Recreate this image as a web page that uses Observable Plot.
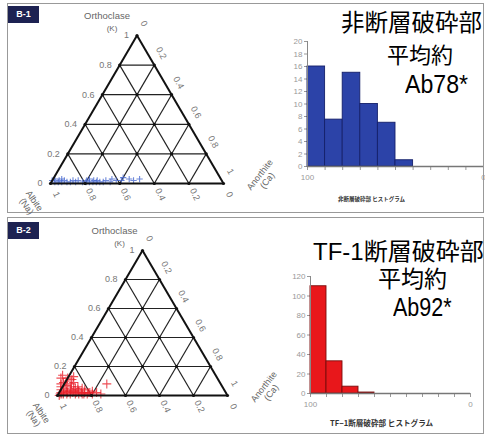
<!DOCTYPE html>
<html><head><meta charset="utf-8">
<script src="https://cdn.jsdelivr.net/npm/d3@7"></script>
<script src="https://cdn.jsdelivr.net/npm/@observablehq/plot@0.6"></script>
<style>
body{margin:0;background:#fff;font-family:"Liberation Sans",Arial,sans-serif;}
#fig{position:relative;width:485px;height:437px;overflow:hidden;background:#fff;}
.panel{position:absolute;border:1.5px solid #999;box-sizing:border-box;}
.tag{position:absolute;background:#1d2252;color:#fff;font-size:9px;font-weight:bold;text-align:center;line-height:16px;}
.big{position:absolute;white-space:nowrap;line-height:0.85;color:#000;font-family:"Liberation Sans","Noto Sans CJK JP",sans-serif;transform-origin:0 0;}
.cap{position:absolute;white-space:nowrap;line-height:1;color:#333;font-family:"Noto Sans CJK JP",sans-serif;font-weight:bold;}
</style></head>
<body><div id="fig"></div>
<script>
// ---------- data ----------
const panelTags = ["B-1", "B-2"];
const ternTicks = [0, 0.2, 0.4, 0.6, 0.8, 1];
const ternTickLabels = ["0", "0.2", "0.4", "0.6", "0.8", "1"];
const apexName = ["Orthoclase", "(K)"];
const leftName = "Albite\n(Na)";
const rightName = "Anorthite\n(Ca)";
// panel 1 (non-fault) points: Ab fraction, K fraction
const t1Ab = [0.98,0.97,0.96,0.95,0.94,0.93,0.92,0.91,0.90,0.88,0.86,0.85,0.83,0.81,0.79,0.78,0.77,0.76,0.75,0.74,0.73,0.72,0.71,0.69,0.67,0.65,0.63,0.61,0.58,0.56,0.53,0.51,0.47];
const t1K  = [0.02,0.01,0.03,0.01,0.02,0.01,0.03,0.02,0.01,0.01,0.02,0.01,0.02,0.01,0.01,0.02,0.01,0.03,0.01,0.02,0.01,0.02,0.01,0.01,0.02,0.01,0.03,0.02,0.02,0.04,0.03,0.02,0.03];
// panel 2 (TF-1 fault) points
const t2Ab = [0.99,0.98,0.97,0.96,0.95,0.94,0.93,0.92,0.91,0.90,0.89,0.88,0.87,0.86,0.85,0.84,0.83,0.82,0.81,0.95,0.93,0.91,0.89,0.87,0.85,0.92,0.90,0.88,0.86,0.94,0.96,0.90,0.86,0.83,0.88,0.90,0.86,0.84,0.92,0.80,0.79,0.78,0.76,0.74,0.97,0.93,0.89,0.85,0.82,0.67];
const t2K  = [0.00,0.01,0.02,0.01,0.03,0.01,0.02,0.01,0.03,0.02,0.01,0.02,0.01,0.03,0.02,0.01,0.02,0.01,0.02,0.06,0.05,0.07,0.06,0.05,0.06,0.09,0.10,0.08,0.09,0.08,0.04,0.04,0.04,0.05,0.12,0.14,0.11,0.13,0.12,0.02,0.01,0.03,0.02,0.01,0.01,0.03,0.03,0.01,0.04,0.08];
// histograms (Ab %), bins of 10 from 100 down to 0
const histEdges = [100,90,80,70,60,50,40,30,20,10,0];
const h1Counts = [16,7.5,15,10,7,1,0,0,0,0];
const h2Counts = [110,33,7,1,0,0,0,0,0,0];
const h1YTicks = [0,2,4,6,8,10,12,14,16,18,20];
const h2YTicks = [0,20,40,60,80,100,120];
const h1Title = "非断層破砕部 ヒストグラム";
const h2Title = "TF−1断層破砕部 ヒストグラム";
const big1 = ["非断層破砕部", "平均約", "Ab78*"];
const big2 = ["TF-1断層破砕部", "平均約", "Ab92*"];

// ---------- helpers ----------
const fig = document.getElementById("fig");
const H = Math.sqrt(3) / 2;
const cart = (ab, k) => ({x: (1 - ab - k) + k / 2, y: k * H});

function place(el, left, top) {
  el.style.position = "absolute"; el.style.left = left + "px"; el.style.top = top + "px";
  fig.appendChild(el); return el;
}
function div(cls, text, css) {
  const d = document.createElement("div"); d.className = cls; d.textContent = text;
  Object.assign(d.style, css); fig.appendChild(d); return d;
}

function ternary({ab, k, color, r, width, height, ml, mr, mt, mb, apexDx}) {
  const inner = ternTicks.slice(1, -1);
  const grid = [];
  for (const t of inner) {
    grid.push({a: cart(1 - t, t), b: cart(0, t)});       // constant K
    grid.push({a: cart(t, 0), b: cart(t, 1 - t)});       // constant Ab
    grid.push({a: cart(1 - t, 0), b: cart(0, 1 - t)});   // constant An
  }
  const edges = [[cart(1, 0), cart(0, 0)], [cart(0, 0), cart(0, 1)], [cart(0, 1), cart(1, 0)]].map(([a, b]) => ({a, b}));
  const nodes = [];
  for (const i of ternTicks) for (const j of ternTicks) if (i + j <= 1.0001) nodes.push(cart(i, j));
  const left = ternTicks.map((t, i) => ({...cart(1 - t, t), label: ternTickLabels[i]}));
  const right = ternTicks.map((t, i) => ({...cart(0, 1 - t), label: ternTickLabels[i]}));
  const bottom = ternTicks.map((t, i) => ({...cart(t, 0), label: ternTickLabels[i]}));
  const pts = ab.map((v, i) => cart(v, k[i]));
  const apex = [cart(0, 1)], albite = [cart(1, 0)], anorthite = [cart(0, 0)];
  const lab = {fontSize: 9, fill: "#777"};
  return Plot.plot({
    width, height, marginLeft: ml, marginRight: mr, marginTop: mt, marginBottom: mb,
    style: {background: "transparent", overflow: "visible", fontFamily: "Liberation Sans, Arial, sans-serif"},
    x: {domain: [0, 1], axis: null}, y: {domain: [0, H], axis: null},
    marks: [
      Plot.link(grid, {x1: d => d.a.x, y1: d => d.a.y, x2: d => d.b.x, y2: d => d.b.y, stroke: "#222", strokeWidth: 1.2}),
      Plot.dot(pts, {x: "x", y: "y", symbol: "plus", r, stroke: color, strokeWidth: 1.1, strokeOpacity: 0.8}),
      Plot.link(edges, {x1: d => d.a.x, y1: d => d.a.y, x2: d => d.b.x, y2: d => d.b.y, stroke: "#111", strokeWidth: 2}),
      Plot.dot(nodes, {x: "x", y: "y", r: 1.6, fill: "#111"}),
      Plot.text(left, {x: "x", y: "y", text: "label", textAnchor: "end", dx: -8, ...lab}),
      Plot.text(right, {x: "x", y: "y", text: "label", rotate: 62, dx: 7, dy: -12, ...lab}),
      Plot.text(bottom, {x: "x", y: "y", text: "label", rotate: 65, dx: 6, dy: 11, ...lab}),
      Plot.text(apex, {x: "x", y: "y", text: () => apexName[0], dx: apexDx, dy: -20, fontSize: 9.5, fill: "#666"}),
      Plot.text(apex, {x: "x", y: "y", text: () => apexName[1], dx: apexDx + 5, dy: -7, fontSize: 8, fill: "#666"}),
      Plot.text(albite, {x: "x", y: "y", text: () => leftName, rotate: 55, dx: -20, dy: 20, fontSize: 9, fill: "#666", lineHeight: 1.05}),
      Plot.text(anorthite, {x: "x", y: "y", text: () => rightName, rotate: -52, dx: 40, dy: -6, fontSize: 9, fill: "#666", lineHeight: 1.05})
    ]
  });
}

function hist({counts, yTicks, yMax, fill, stroke, width, height, ml, mr, mt, mb}) {
  const bins = counts.map((c, i) => ({x1: histEdges[i], x2: histEdges[i + 1], c})).filter(d => d.c > 0);
  return Plot.plot({
    width, height, marginLeft: ml, marginRight: mr, marginTop: mt, marginBottom: mb,
    style: {background: "transparent", overflow: "visible", fontSize: "8px", color: "#999", fontFamily: "Liberation Sans, Arial, sans-serif"},
    x: {domain: [100, 0], ticks: histEdges, tickSize: 4, tickPadding: 4, tickFormat: d => (d === 100 || d === 0) ? String(d) : "", label: null},
    y: {domain: [0, yMax], ticks: yTicks, tickSize: 3, tickPadding: 2, label: null},
    marks: [
      Plot.rectY(bins, {x1: "x1", x2: "x2", y: "c", fill, stroke, strokeWidth: 0.9, inset: 0}),
      Plot.ruleX([100], {stroke: "#888"}),
      Plot.ruleY([0], {stroke: "#777", strokeWidth: 1.6})
    ]
  });
}

// ---------- layout ----------
div("panel", "", {left: "7px", top: "3px", width: "477px", height: "210px"});
div("panel", "", {left: "7px", top: "217px", width: "477px", height: "217px"});
div("tag", panelTags[0], {left: "8px", top: "6px", width: "31px", height: "17px"});
div("tag", panelTags[1], {left: "8px", top: "222px", width: "31px", height: "17px"});

const tern1 = ternary({ab: t1Ab, k: t1K, color: "#4a6ad0", r: 2.2, width: 250, height: 210, ml: 50, mr: 27, mt: 35, mb: 27, apexDx: -30});
place(tern1, 0, 0);
const tern2 = ternary({ab: t2Ab, k: t2K, color: "#e8202a", r: 3, width: 250, height: 216, ml: 57, mr: 23, mt: 34, mb: 37, apexDx: -28});
place(tern2, 0, 216);

const hist1 = hist({counts: h1Counts, yTicks: h1YTicks, yMax: 20, fill: "#2c43a8", stroke: "#15206a", width: 235, height: 215, ml: 57, mr: 2, mt: 41, mb: 49});
place(hist1, 250, 0);
const hist2 = hist({counts: h2Counts, yTicks: h2YTicks, yMax: 120, fill: "#e8171b", stroke: "#7a0c0c", width: 235, height: 217, ml: 60, mr: 15, mt: 60, mb: 40});
place(hist2, 250, 216);

div("cap", h1Title, {left: "338px", top: "197px", fontSize: "5.5px"});
div("cap", h2Title, {left: "330px", top: "419px", fontSize: "7.6px"});

div("big", big1[0], {left: "341px", top: "14px", fontSize: "23.5px"});
div("big", big1[1], {left: "387px", top: "47px", fontSize: "22px"});
div("big", big1[2], {left: "405px", top: "73px", fontSize: "26px", transform: "scaleX(0.89)"});
div("big", big2[0], {left: "313px", top: "242px", fontSize: "24px"});
div("big", big2[1], {left: "378px", top: "270px", fontSize: "23px"});
div("big", big2[2], {left: "393px", top: "297px", fontSize: "25px", transform: "scaleX(0.86)"});
</script></body></html>
